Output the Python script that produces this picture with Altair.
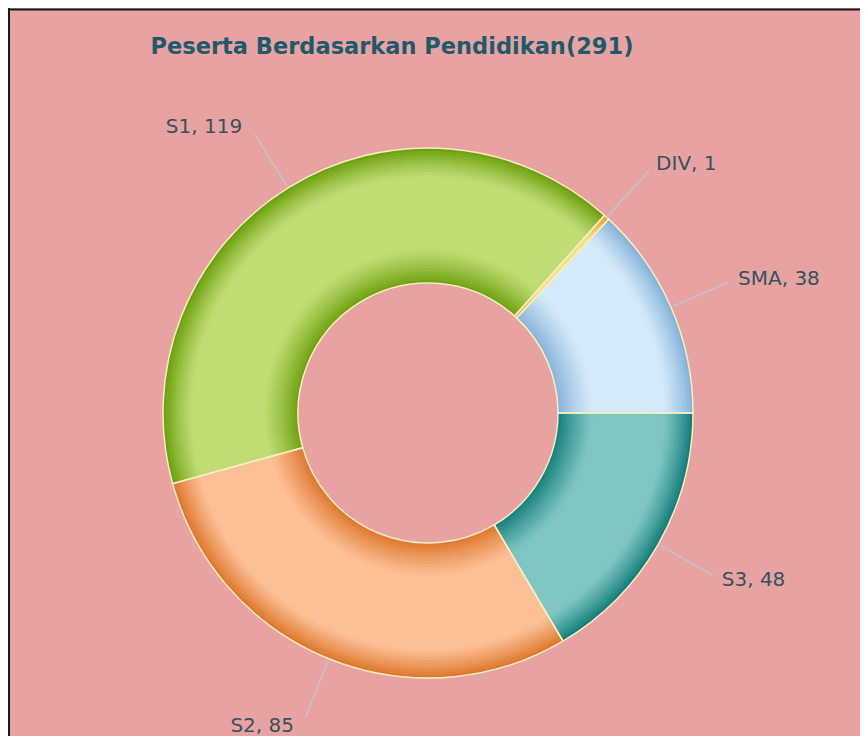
import math
import altair as alt
import pandas as pd

# ---- data ----
categories = ["S3", "S2", "S1", "DIV", "SMA"]
values = [48, 85, 119, 1, 38]
title_text = "Peserta Berdasarkan Pendidikan(291)"

# ---- styles ----
light_colors = ["#7fc6c2", "#fdc096", "#c0dc74", "#f7e07a", "#d4e9f9"]
dark_colors = ["#0f7c78", "#dc7428", "#6a9e0a", "#ee9d2c", "#82b1d8"]
BG = "#e8a2a2"
W, H = 840, 630
PAD = {"left": 0, "top": 90, "right": 12, "bottom": 8}
R_OUT, R_IN = 265, 130
N_BANDS = 45

df = pd.DataFrame({"cat": categories, "value": values, "order": list(range(len(values)))})


def hex2rgb(h):
    h = h.lstrip("#")
    return [int(h[i:i + 2], 16) for i in (0, 2, 4)]


def mix(c1, c2, t):
    a, b = hex2rgb(c1), hex2rgb(c2)
    return "#" + "".join(f"{round(x + (y - x) * t):02x}" for x, y in zip(a, b))


def darkness(t):
    d = 0.0
    if t < 0.26:
        d = 0.95 * ((0.26 - t) / 0.26) ** 1.2
    if t > 0.78:
        d = max(d, ((t - 0.78) / 0.22) ** 1.2)
    return d


theta_enc = alt.Theta("value:Q", stack=True,
                      scale=alt.Scale(range=[math.pi / 2, math.pi / 2 + 2 * math.pi]))
order_enc = alt.Order("order:Q", sort="ascending")

base = alt.Chart(df)
step = (R_OUT - R_IN) / N_BANDS
layers = []
for k in range(N_BANDS, 0, -1):
    tmid = (k - 0.5) / N_BANDS
    d = darkness(tmid)
    cols = [mix(l, dk, d) for l, dk in zip(light_colors, dark_colors)]
    layers.append(
        base.mark_arc(radius=R_IN + k * step, radius2=R_IN).encode(
            theta=theta_enc,
            order=order_enc,
            color=alt.Color("cat:N", scale=alt.Scale(domain=categories, range=cols), legend=None),
        )
    )

outline = base.mark_arc(radius=R_OUT, radius2=R_IN, fillOpacity=0,
                        stroke="#f6eec2", strokeWidth=1.5).encode(theta=theta_enc, order=order_enc)
layers.append(outline)

# geometry for leader lines and labels, derived from data
geo = base.transform_joinaggregate(total="sum(value)").transform_window(
    cum="sum(value)", sort=[alt.SortField("order", order="ascending")], frame=[None, 0]
).transform_calculate(
    ang="2*PI*(datum.cum - datum.value/2)/datum.total + PI/2",
).transform_calculate(
    sx="sin(datum.ang)", cy="cos(datum.ang)",
).transform_calculate(
    x1=f"{R_OUT + 3}*datum.sx", y1=f"{R_OUT + 3}*datum.cy",
    x2="328*datum.sx", y2="328*datum.cy",
    lx="337*datum.sx", ly="337*datum.cy",
    label="datum.cat + ', ' + datum.value",
)

xs = alt.Scale(domain=[-W / 2, W / 2], nice=False, zero=False)
ys = alt.Scale(domain=[-H / 2, H / 2], nice=False, zero=False)

leaders = geo.mark_rule(color="#cdbcc4", strokeWidth=2).encode(
    x=alt.X("x1:Q", scale=xs, axis=None), y=alt.Y("y1:Q", scale=ys, axis=None),
    x2="x2:Q", y2="y2:Q",
)
layers.append(leaders)

label_style = dict(font="DejaVu Sans", fontSize=20, color="#35535e", baseline="middle")
right_labels = geo.transform_filter("datum.sx >= 0").mark_text(align="left", dx=1, **label_style).encode(
    x=alt.X("lx:Q", scale=xs, axis=None), y=alt.Y("ly:Q", scale=ys, axis=None), text="label:N")
left_labels = geo.transform_filter("datum.sx < 0").mark_text(align="right", dx=-8, **label_style).encode(
    x=alt.X("lx:Q", scale=xs, axis=None), y=alt.Y("ly:Q", scale=ys, axis=None), text="label:N")
layers += [right_labels, left_labels]

# frame border lines (top and left)
border_top = alt.Chart(pd.DataFrame({"a": [0]})).mark_rule(color="#1a1a1a", strokeWidth=2).encode(
    x=alt.value(0), x2=alt.value(W + PAD["right"]), y=alt.value(-88.5))
border_left = alt.Chart(pd.DataFrame({"a": [0]})).mark_rule(color="#1a1a1a", strokeWidth=2).encode(
    x=alt.value(1), y=alt.value(-90), y2=alt.value(H + PAD["bottom"]))
layers += [border_top, border_left]

chart = alt.layer(*layers).resolve_scale(color="independent").properties(
    width=W, height=H,
    autosize=alt.AutoSizeParams(type="none"),
    padding=PAD,
    background=BG,
    title=alt.TitleParams(title_text, font="DejaVu Sans", fontSize=22.5, fontWeight="bold",
                          color="#1f5a6b", anchor="middle", dx=-36, offset=-69,
                          baseline="alphabetic", frame="group"),
).configure_view(stroke=None)

chart.save("out.html", embed_options={"renderer": "svg", "actions": False})
